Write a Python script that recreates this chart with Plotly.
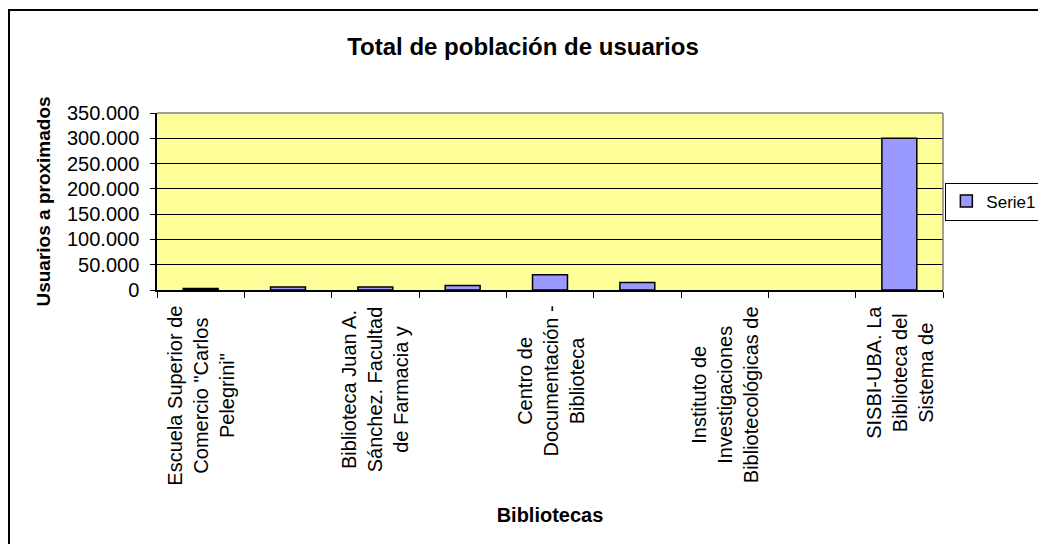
import plotly.graph_objects as go

# Chart data
label_lines = [
    ["Escuela Superior de", "Comercio \"Carlos", "Pelegrini\""],
    None,
    ["Biblioteca Juan A.", "Sánchez. Facultad", "de Farmacia y"],
    None,
    ["Centro de", "Documentación -", "Biblioteca"],
    None,
    ["Instituto de", "Investigaciones", "Bibliotecológicas de"],
    None,
    ["SISBI-UBA. La", "Biblioteca del", "Sistema de"],
]
usuarios = [3000, 6000, 6000, 9000, 30000, 15000, 0, 0, 300000]
serie_name = "Serie1"
y_ticks = [0, 50000, 100000, 150000, 200000, 250000, 300000, 350000]

FONT = "Liberation Sans, Arial, sans-serif"
n = len(usuarios)
xs = list(range(n))

# page body has an 8px margin, so the layout numbers are shifted by 8
L, T, PW, PH = 149, 105, 786, 177

fig = go.Figure(
    go.Bar(
        x=xs,
        y=usuarios,
        name=serie_name,
        marker=dict(
            color="#9999FF",
            line=dict(color="black", width=[1.5 if v else 0 for v in usuarios]),
        ),
    )
)

# category labels, every other one, centred lines like Excel
annotations = []
for i, lines in enumerate(label_lines):
    if lines is None:
        continue
    annotations.append(dict(
        x=i, xref="x", y=0, yref="paper", yshift=-14,
        text="<br>".join(lines), textangle=-90,
        xanchor="center", yanchor="top", align="center",
        showarrow=False, font=dict(family=FONT, size=20, color="black"),
    ))

fig.update_layout(
    width=1046,
    height=544,
    margin=dict(l=L, r=1046 - L - PW, t=T, b=544 - T - PH, autoexpand=False),
    paper_bgcolor="white",
    plot_bgcolor="#FFFF99",
    separators=",.",
    font=dict(family=FONT, size=20, color="black"),
    title=dict(
        text="<b>Total de población de usuarios</b>",
        x=515 / 1046, xref="container", xanchor="center",
        y=1 - 39 / 544, yref="container", yanchor="middle",
        font=dict(family=FONT, size=24, color="black"),
    ),
    bargap=0.6,
    showlegend=True,
    legend=dict(
        x=1.003, xanchor="left", y=0.5, yanchor="middle",
        bordercolor="black", borderwidth=1, bgcolor="white",
        font=dict(family=FONT, size=17, color="black"),
        itemwidth=30,
    ),
    annotations=annotations,
)

fig.update_xaxes(
    range=[-0.5, n - 0.5],
    tickvals=[i - 0.5 for i in range(n + 1)],
    showticklabels=False,
    ticks="outside", ticklen=6, tickcolor="black", tickwidth=1,
    showgrid=False, zeroline=False,
    showline=True, linecolor="black", linewidth=1.5,
    title=dict(text="<b>Bibliotecas</b>", standoff=211,
               font=dict(family=FONT, size=20, color="black")),
)

fig.update_yaxes(
    range=[0, 350000],
    tickvals=y_ticks,
    tickformat=",.0f",
    ticks="outside", ticklen=5, tickcolor="black", tickwidth=1,
    ticklabelstandoff=7,
    showgrid=True, gridcolor="black", gridwidth=1,
    zeroline=False,
    showline=True, linecolor="black", linewidth=1.5,
    tickfont=dict(family=FONT, size=20, color="black"),
    title=dict(text="<b>Usuarios a proximados</b>", standoff=11,
               font=dict(family=FONT, size=19, color="black")),
)

# grey top and right edges of the plot area
for x0, y0, x1, y1 in [(0, 1, 1, 1), (1, 0, 1, 1)]:
    fig.add_shape(type="line", xref="paper", yref="paper",
                  x0=x0, y0=y0, x1=x1, y1=y1,
                  line=dict(color="#808080", width=1.5))

# outer chart frame
fig.add_shape(type="rect", xref="paper", yref="paper",
              x0=(1 - L) / PW, x1=(1070 - L) / PW,
              y0=(T + PH - 570) / PH, y1=(T + PH - 2) / PH,
              line=dict(color="black", width=2), layer="above")

fig.write_html("out.html")
